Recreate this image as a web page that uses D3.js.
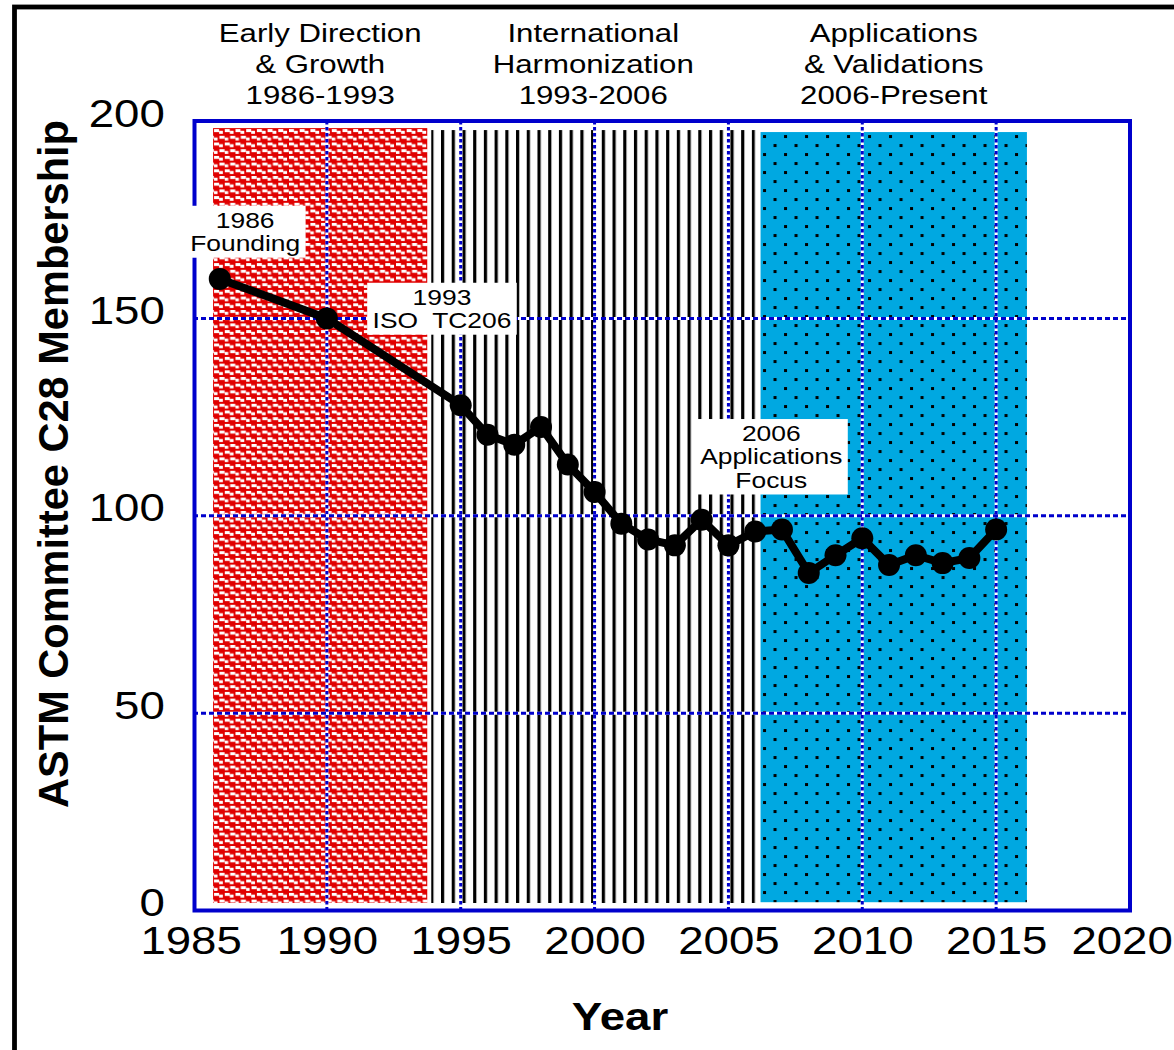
<!DOCTYPE html>
<html>
<head>
<meta charset="utf-8">
<script src="https://cdn.jsdelivr.net/npm/d3@7"></script>
<style>
  body { margin: 0; background: #fff; }
  text { font-family: "Liberation Sans", Arial, sans-serif; fill: #000; }
</style>
</head>
<body>
<div id="chart"></div>
<script>
// membership by year
const years = [1986, 1990, 1995, 1996, 1997, 1998, 1999, 2000, 2001, 2002, 2003, 2004,
  2005, 2006, 2007, 2008, 2009, 2010, 2011, 2012, 2013, 2014, 2015];
const membership = [160, 150, 128, 120.5, 118, 122.5, 113, 106, 98, 94, 92.5, 99,
  92.5, 96, 96.5, 85.5, 90, 94.3, 87.5, 90, 88, 89.3, 96.5];

// shaded eras
const periodNames = [
  ["Early Direction", "& Growth", "1986-1993"],
  ["International", "Harmonization", "1993-2006"],
  ["Applications", "& Validations", "2006-Present"],
];
const periodStart = [1985.75, 1993.9, 2006.2];
const periodEnd = [1993.75, 2006, 2016.15];
const periodTop = [198.2, 197.7, 197.2];
const periodBottom = [1.9, 1.9, 2.1];

// callouts
const notes = [["1986", "Founding"], ["1993", "ISO  TC206"], ["2006", "Applications", "Focus"]];
const noteYear = [1986.95, 1994.3, 2006.6];
const noteValue = [172, 152.5, 115];

const xTicks = [1985, 1990, 1995, 2000, 2005, 2010, 2015, 2020];
const yTicks = [0, 50, 100, 150, 200];
const xGrid = [1990, 1995, 2000, 2005, 2010, 2015];
const yGrid = [50, 100, 150];

const width = 1174, height = 1050;
const SX = 1.2; // the original lettering is wide
const blue = "#0000cc";

const svg = d3.select("#chart").append("svg")
  .attr("width", width)
  .attr("height", height);

const x = d3.scaleLinear().domain([1985, 2020]).range([193, 1130]);
const y = d3.scaleLinear().domain([0, 200]).range([910.5, 121]);

// patterns
const defs = svg.append("defs");

const brick = defs.append("pattern")
  .attr("id", "brick")
  .attr("patternUnits", "userSpaceOnUse")
  .attr("x", x(periodStart[0]) + 1)
  .attr("y", y(periodTop[0]) + 1)
  .attr("width", 10.7)
  .attr("height", 13.4);
brick.append("rect").attr("width", 10.7).attr("height", 13.4).attr("fill", "#e00000");
[[0, 0, 5, 3], [5, 1.7, 3.8, 3], [5.35, 6.7, 5, 3], [-0.35, 8.4, 3.8, 3], [10.35, 6.7, 5, 3]]
  .forEach(([rx, ry, rw, rh]) => {
    brick.append("rect").attr("x", rx).attr("y", ry).attr("width", rw).attr("height", rh).attr("fill", "#fff");
  });

const stripes = defs.append("pattern")
  .attr("id", "stripes")
  .attr("patternUnits", "userSpaceOnUse")
  .attr("x", x(periodStart[1]) - 1)
  .attr("y", 0)
  .attr("width", 10.72)
  .attr("height", 20);
stripes.append("rect").attr("width", 10.72).attr("height", 20).attr("fill", "#fff");
stripes.append("rect").attr("x", 0).attr("width", 3.2).attr("height", 20).attr("fill", "#000");

const dots = defs.append("pattern")
  .attr("id", "dots")
  .attr("patternUnits", "userSpaceOnUse")
  .attr("x", x(periodStart[2]) + 2.5)
  .attr("y", y(periodTop[2]) + 3)
  .attr("width", 21)
  .attr("height", 18);
dots.append("rect").attr("width", 21).attr("height", 18).attr("fill", "#00a8e1");
dots.append("rect").attr("x", 0).attr("y", 0).attr("width", 3).attr("height", 3).attr("fill", "#000");
dots.append("rect").attr("x", 10.5).attr("y", 9).attr("width", 3).attr("height", 3).attr("fill", "#000");

const fills = ["url(#brick)", "url(#stripes)", "url(#dots)"];

// outer black frame
svg.append("rect")
  .attr("x", 14.5).attr("y", 7)
  .attr("width", width + 40).attr("height", height + 40)
  .attr("fill", "none")
  .attr("stroke", "#000")
  .attr("stroke-width", 4.8);

// era blocks
svg.selectAll(".era")
  .data(periodStart)
  .enter()
  .append("rect")
  .attr("class", "era")
  .attr("x", (d, i) => x(d))
  .attr("y", (d, i) => y(periodTop[i]))
  .attr("width", (d, i) => x(periodEnd[i]) - x(d))
  .attr("height", (d, i) => y(periodBottom[i]) - y(periodTop[i]))
  .attr("fill", (d, i) => fills[i]);

// thin edge at end of striped era
svg.append("line")
  .attr("x1", x(periodEnd[1])).attr("x2", x(periodEnd[1]))
  .attr("y1", y(periodTop[1])).attr("y2", y(periodBottom[1]))
  .attr("stroke", "#ccc")
  .attr("stroke-width", 1);

// grid
const grid = svg.append("g");
xGrid.forEach(v => {
  grid.append("line")
    .attr("x1", x(v)).attr("x2", x(v)).attr("y1", y(0)).attr("y2", y(200))
    .attr("stroke", "#fff").attr("stroke-width", 3);
  grid.append("line")
    .attr("x1", x(v)).attr("x2", x(v)).attr("y1", y(0)).attr("y2", y(200))
    .attr("stroke", blue).attr("stroke-width", 3).attr("stroke-dasharray", "3.5,2.5");
});
yGrid.forEach(v => {
  grid.append("line")
    .attr("x1", x(1985)).attr("x2", x(2020)).attr("y1", y(v)).attr("y2", y(v))
    .attr("stroke", "#fff").attr("stroke-width", 3);
  grid.append("line")
    .attr("x1", x(1985)).attr("x2", x(2020)).attr("y1", y(v)).attr("y2", y(v))
    .attr("stroke", blue).attr("stroke-width", 3).attr("stroke-dasharray", "5,3");
});

// plot frame
svg.append("rect")
  .attr("x", x(1985) + 1.5).attr("y", y(200))
  .attr("width", x(2020) - x(1985) - 1.5).attr("height", y(0) - y(200))
  .attr("fill", "none")
  .attr("stroke", blue)
  .attr("stroke-width", 4);

// axes
const xAxis = svg.append("g")
  .attr("transform", `translate(0,${y(0)})`)
  .call(d3.axisBottom(x).tickValues(xTicks).tickFormat(d3.format("d")).tickSize(0).tickPadding(0));
xAxis.select(".domain").remove();
xAxis.selectAll("text")
  .attr("x", d => d === 2020 ? -7 : d === 1985 ? -2 : 0)
  .attr("y", 44)
  .attr("dy", 0)
  .attr("transform", `scale(${SX},1)`)
  .style("font-size", "38px")
  .style("font-family", "'Liberation Sans', Arial, sans-serif")
  .attr("fill", "#000");

const yAxis = svg.append("g")
  .attr("transform", `translate(${x(1985)},0)`)
  .call(d3.axisLeft(y).tickValues(yTicks).tickSize(0).tickPadding(0));
yAxis.select(".domain").remove();
yAxis.selectAll("text")
  .attr("x", -23.5)
  .attr("y", 5)
  .attr("dy", 0)
  .attr("transform", `scale(${SX},1)`)
  .style("font-size", "38px")
  .style("font-family", "'Liberation Sans', Arial, sans-serif")
  .attr("fill", "#000");

// membership line
svg.append("path")
  .datum(years)
  .attr("fill", "none")
  .attr("stroke", "#000")
  .attr("stroke-width", 8)
  .attr("stroke-linejoin", "round")
  .attr("d", d3.line().x(d => x(d)).y((d, i) => y(membership[i])));

svg.selectAll(".pt")
  .data(years)
  .enter()
  .append("circle")
  .attr("class", "pt")
  .attr("cx", d => x(d))
  .attr("cy", (d, i) => y(membership[i]))
  .attr("r", 11)
  .attr("fill", "#000");

// callouts
notes.forEach((lines, i) => {
  const g = svg.append("g")
    .attr("transform", `translate(${x(noteYear[i])},${y(noteValue[i])}) scale(${SX},1)`);
  const lh = 23.5;
  const box = g.append("rect").attr("fill", "#fff");
  lines.forEach((t, j) => {
    g.append("text")
      .attr("x", 0)
      .attr("y", (j - (lines.length - 1) / 2) * lh)
      .attr("dy", "0.36em")
      .attr("text-anchor", "middle")
      .style("font-size", "22px")
      .style("white-space", "pre")
      .text(t);
  });
  const bb = g.node().getBBox();
  box.attr("x", bb.x - 4.5).attr("y", bb.y - 2)
    .attr("width", bb.width + 9).attr("height", bb.height + 4);
});

// era headings
periodNames.forEach((lines, i) => {
  const cx = (x(periodStart[i]) + x(periodEnd[i])) / 2;
  lines.forEach((t, j) => {
    svg.append("text")
      .attr("transform", `translate(${cx},${33 + j * 31}) scale(${SX},1)`)
      .attr("dy", "0.36em")
      .attr("text-anchor", "middle")
      .style("font-size", "26px")
      .text(t);
  });
});

// axis titles
svg.append("text")
  .attr("transform", `translate(620,1030) scale(${SX},1)`)
  .attr("text-anchor", "middle")
  .style("font-size", "38px")
  .style("font-weight", "bold")
  .text("Year");

svg.append("text")
  .attr("transform", "translate(68,464) rotate(-90) scale(1.154,1.2)")
  .attr("text-anchor", "middle")
  .style("font-size", "36px")
  .style("font-weight", "bold")
  .text("ASTM Committee C28 Membership");
</script>
</body>
</html>
